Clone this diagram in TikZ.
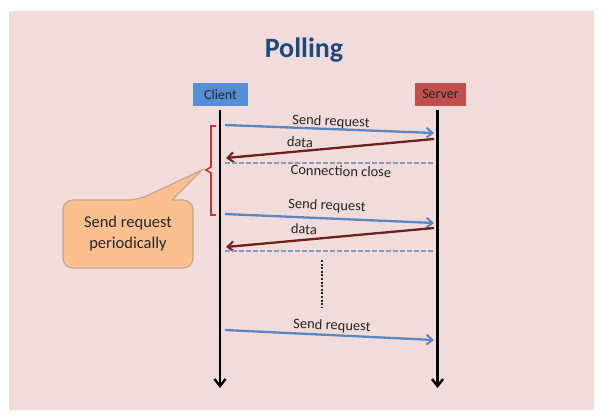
\documentclass[tikz,border=0pt]{standalone}
\usepackage{fontspec}
\setmainfont{Carlito}
\usetikzlibrary{arrows.meta}
\definecolor{bgpink}{HTML}{F2DCDB}
\definecolor{titleblue}{HTML}{1F497D}
\definecolor{clientblue}{HTML}{558ED5}
\definecolor{serverred}{HTML}{C0504D}
\definecolor{reqblue}{HTML}{5A86C0}
\definecolor{datared}{HTML}{6E2020}
\definecolor{dashblue}{HTML}{7F9CC0}
\definecolor{callfill}{HTML}{FAC090}
\definecolor{calldraw}{HTML}{C9A68A}
\definecolor{bracered}{HTML}{D03030}
\tikzset{
  actor/.style={minimum height=23pt,inner sep=0pt,font=\fontsize{14}{16}\selectfont,text=black!85},
  lifeline/.style={line width=2.8pt,-{Straight Barb[length=7pt,width=11pt,line width=2.4pt]}},
  req/.style={reqblue,line width=2.3pt,-{Straight Barb[length=6pt,width=10pt,line width=2pt]}},
  resp/.style={datared,line width=2.3pt,-{Straight Barb[length=6pt,width=10pt,line width=2pt]}},
  closeline/.style={dashblue,line width=2.2pt,dash pattern=on 4.5pt off 2.5pt},
  lbl/.style={font=\fontsize{14.5}{16}\selectfont,text=black!85,inner sep=1pt},
}
\begin{document}
\begin{tikzpicture}[x=1pt,y=-1pt]
\useasboundingbox (0,0) rectangle (601,419);
\fill[white] (0,0) rectangle (601,419);
\fill[bgpink] (9,11) rectangle (594,410);
\node[font=\fontsize{28}{32}\selectfont\bfseries,text=titleblue] (title) at (304,50) {Polling};
\node[actor,fill=clientblue,minimum width=55pt] (client) at (220.5,94.5) {Client};
\node[actor,fill=serverred,minimum width=51pt] (server) at (440.5,94.5) {Server};
\coordinate (ctop) at (220,110);
\coordinate (cbot) at (220,388);
\coordinate (stop) at (437.5,110);
\coordinate (sbot) at (437.5,388);
\draw[lifeline] (ctop) -- (cbot);
\draw[lifeline] (stop) -- (sbot);
% first round
\coordinate (r1a) at (225,125); \coordinate (r1b) at (434,133);
\coordinate (d1a) at (434,139); \coordinate (d1b) at (226,158);
\coordinate (c1a) at (225,163); \coordinate (c1b) at (434,163);
\draw[req] (r1a) -- (r1b);
\draw[resp] (d1a) -- (d1b);
\draw[closeline] (c1a) -- (c1b);
\node[lbl,rotate=-2.2] (l1) at (331,122) {Send request};
\node[lbl,rotate=-2] (l2) at (300,142) {data};
\node[lbl,rotate=-1.5] (l3) at (341,171) {Connection close};
% second round
\coordinate (r2a) at (225,214); \coordinate (r2b) at (434,223);
\coordinate (d2a) at (434,228); \coordinate (d2b) at (226,247);
\coordinate (c2a) at (225,251); \coordinate (c2b) at (434,251);
\draw[req] (r2a) -- (r2b);
\draw[resp] (d2a) -- (d2b);
\draw[closeline] (c2a) -- (c2b);
\node[lbl,rotate=-2.2] (l4) at (327,206) {Send request};
\node[lbl,rotate=-2] (l5) at (304,229) {data};
% dots
\coordinate (v1) at (322,260); \coordinate (v2) at (322,308);
\draw[black!85,line width=2.2pt,dash pattern=on 2pt off 1.6pt] (v1) -- (v2);
% third
\coordinate (r3a) at (225,330); \coordinate (r3b) at (434,340);
\draw[req] (r3a) -- (r3b);
\node[lbl,rotate=-2.2] (l6) at (332,326) {Send request};
% brace
\coordinate (b1) at (216,126); \coordinate (b2) at (216,215); \coordinate (btip) at (206,170);
\draw[bracered,line width=1.6pt] (b1) -- (211,126) -- (211,167) -- (btip) -- (211,173) -- (211,215) -- (b2);
% callout
\draw[calldraw,fill=callfill,line width=1.2pt,rounded corners=10pt]
  (63,200) -- (138,200) [sharp corners] -- (202,170) -- (172,200) [rounded corners=10pt] -- (193,200) -- (193,268) -- (63,268) -- cycle;
\node[font=\fontsize{16.5}{21}\selectfont,align=center,text=black!85] (call) at (128,234) {Send request\\periodically};
\end{tikzpicture}
\end{document}
